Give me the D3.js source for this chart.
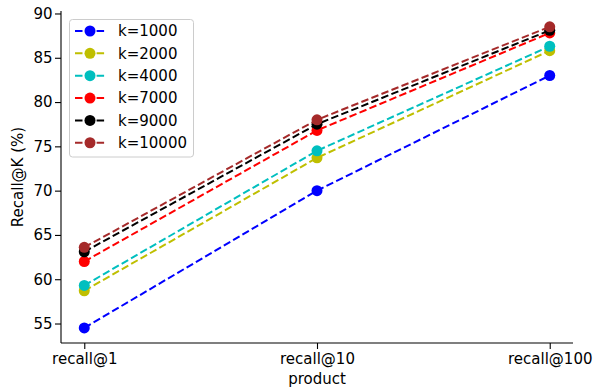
<!DOCTYPE html>
<html>
<head>
<meta charset="utf-8">
<script src="https://cdn.jsdelivr.net/npm/d3@7"></script>
<style>
  body { margin: 0; background: #fff; }
  svg { display: block; }
  text { font-family: "DejaVu Sans", sans-serif; }
</style>
</head>
<body>
<svg id="chart" width="595" height="389"></svg>
<script>
const categories = ["recall@1", "recall@10", "recall@100"];
const seriesNames = ["k=1000", "k=2000", "k=4000", "k=7000", "k=9000", "k=10000"];
const seriesColors = ["#0000ff", "#bfbf00", "#00bfbf", "#ff0000", "#000000", "#a52a2a"];
const k1000  = [54.5, 70.0, 83.0];
const k2000  = [58.7, 73.7, 85.8];
const k4000  = [59.3, 74.5, 86.3];
const k7000  = [62.0, 76.8, 87.8];
const k9000  = [63.1, 77.5, 88.1];
const k10000 = [63.6, 78.0, 88.5];
const yTicks = [55, 60, 65, 70, 75, 80, 85, 90];

const seriesValues = [k1000, k2000, k4000, k7000, k9000, k10000];
const series = seriesNames.map((n, i) => ({ name: n, color: seriesColors[i], values: seriesValues[i] }));

const FS = 15;
const svg = d3.select("#chart");
const pLeft = 61, pRight = 573, pTop = 11, pBottom = 343;

const x = d3.scaleLinear().domain([-0.1, categories.length - 1 + 0.1]).range([pLeft, pRight]);
const y = d3.scaleLinear().domain([52.8, 90.28]).range([pBottom, pTop]);

// axes
const yAxis = d3.axisLeft(y).tickValues(yTicks).tickSize(6).tickPadding(2.5).tickFormat(d3.format("d"));
const gy = svg.append("g").attr("transform", `translate(${pLeft},0)`).call(yAxis);
gy.select(".domain").attr("stroke", "#000").attr("stroke-width", 1.1).attr("d", `M0,${pBottom}V${pTop}`);
gy.selectAll(".tick line").attr("stroke", "#000").attr("stroke-width", 1.1);
gy.selectAll(".tick text").attr("font-size", FS).attr("fill", "#000").attr("font-family", "DejaVu Sans");

const xAxis = d3.axisBottom(x).tickValues(categories.map((c, i) => i)).tickFormat(i => categories[i]).tickSize(6).tickPadding(4.5);
const gx = svg.append("g").attr("transform", `translate(0,${pBottom})`).call(xAxis);
gx.select(".domain").attr("stroke", "#000").attr("stroke-width", 1.1).attr("d", `M${pLeft},0H${pRight}`);
gx.selectAll(".tick line").attr("stroke", "#000").attr("stroke-width", 1.1);
gx.selectAll(".tick text").attr("font-size", FS).attr("fill", "#000").attr("font-family", "DejaVu Sans");

// axis labels
svg.append("text").attr("x", x(1)).attr("y", 384).attr("text-anchor", "middle")
  .attr("font-size", FS).text("product");
svg.append("text").attr("transform", `translate(22.5,${(pTop + pBottom) / 2}) rotate(-90)`)
  .attr("text-anchor", "middle").attr("font-size", FS).text("Recall@K (%)");

// series
const line = d3.line().x((d, i) => x(i)).y(d => y(d));
series.forEach(s => {
  const g = svg.append("g");
  g.append("path").attr("d", line(s.values)).attr("fill", "none")
    .attr("stroke", s.color).attr("stroke-width", 2).attr("stroke-dasharray", "7.5,3.3");
  g.selectAll("circle").data(s.values).join("circle")
    .attr("cx", (d, i) => x(i)).attr("cy", d => y(d)).attr("r", 5.5).attr("fill", s.color);
});

// legend
const lg = svg.append("g");
lg.append("rect").attr("x", 69.5).attr("y", 19.5).attr("width", 124).attr("height", 137.5)
  .attr("rx", 3).attr("fill", "#fff").attr("fill-opacity", 0.8).attr("stroke", "#cccccc").attr("stroke-width", 1);
series.forEach((s, i) => {
  const cy = 31 + i * 22.35;
  lg.append("line").attr("x1", 75).attr("x2", 105).attr("y1", cy).attr("y2", cy)
    .attr("stroke", s.color).attr("stroke-width", 2).attr("stroke-dasharray", "7.5,3.3");
  lg.append("circle").attr("cx", 90).attr("cy", cy).attr("r", 5.5).attr("fill", s.color);
  lg.append("text").attr("x", 118).attr("y", cy + 5.4).attr("font-size", FS).text(s.name);
});
</script>
</body>
</html>
